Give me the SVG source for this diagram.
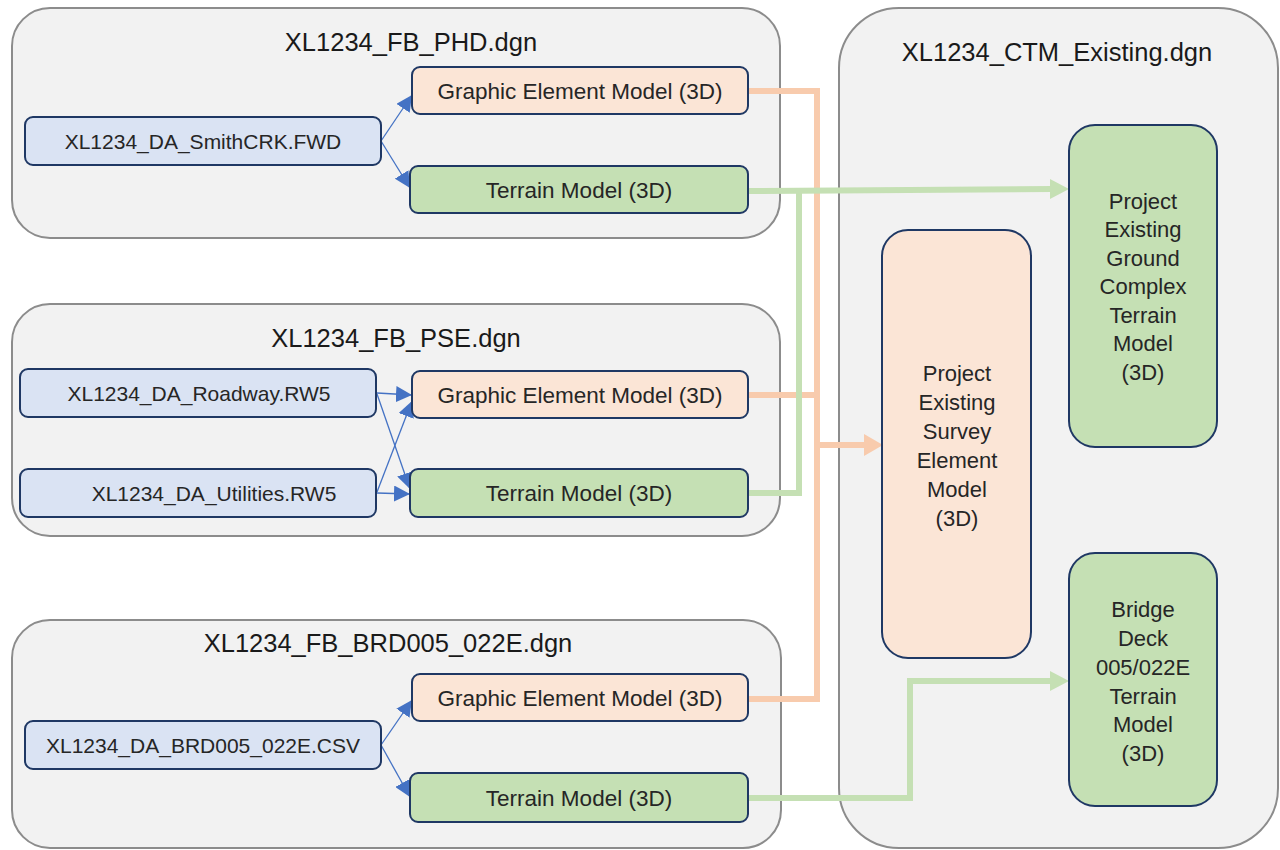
<svg xmlns="http://www.w3.org/2000/svg" width="1280" height="850" viewBox="0 0 1280 850">
<style>
.cont{fill:#f2f2f2;stroke:#8c8c8c;stroke-width:2}
.title{font-family:"Liberation Sans",Arial,sans-serif;font-size:25.5px;fill:#1a1a1a;text-anchor:middle}
.n{stroke:#1f3864;stroke-width:2}
.da{fill:#dae3f3}
.gem{fill:#fbe5d6}
.ter{fill:#c5e0b4}
.t{font-family:"Liberation Sans",Arial,sans-serif;font-size:21px;fill:#262626;text-anchor:middle;dominant-baseline:central}
.tm{font-family:"Liberation Sans",Arial,sans-serif;font-size:22.5px;fill:#262626;text-anchor:middle;dominant-baseline:central}
.tb{font-family:"Liberation Sans",Arial,sans-serif;font-size:22px;fill:#262626;text-anchor:middle}
.blue{stroke:#4472c4;stroke-width:1.3;fill:none}
.org{stroke:#f8cbad;stroke-width:6;fill:none}
.grn{stroke:#c5e0b4;stroke-width:6;fill:none}
</style>
<defs>
<marker id="ab" markerUnits="userSpaceOnUse" markerWidth="18" markerHeight="16" refX="16" refY="8" orient="auto">
<path d="M0,0 L16,8 L0,16 Z" fill="#4472c4"/>
</marker>
</defs>
<rect width="1280" height="850" fill="#ffffff"/>
<g id="containers">
<g id="phd"><rect class="cont" x="12" y="8" width="768" height="230" rx="38"/><text class="title" x="411" y="51">XL1234_FB_PHD.dgn</text></g>
<g id="pse"><rect class="cont" x="12" y="304" width="768" height="232" rx="38"/><text class="title" x="396" y="347">XL1234_FB_PSE.dgn</text></g>
<g id="brd"><rect class="cont" x="12" y="620" width="769" height="228" rx="38"/><text class="title" x="388" y="652">XL1234_FB_BRD005_022E.dgn</text></g>
<g id="ctm"><rect class="cont" x="839" y="8" width="439" height="840" rx="60"/><text class="title" x="1057" y="61">XL1234_CTM_Existing.dgn</text></g>
</g>
<g id="connectors">
<line class="blue" x1="381" y1="141" x2="412" y2="95" marker-end="url(#ab)"/>
<line class="blue" x1="381" y1="141" x2="410" y2="188" marker-end="url(#ab)"/>
<line class="blue" x1="377" y1="393" x2="412" y2="395" marker-end="url(#ab)"/>
<line class="blue" x1="377" y1="394" x2="410" y2="489" marker-end="url(#ab)"/>
<line class="blue" x1="377" y1="492" x2="412" y2="401" marker-end="url(#ab)"/>
<line class="blue" x1="377" y1="493" x2="410" y2="494" marker-end="url(#ab)"/>
<line class="blue" x1="381" y1="745" x2="412" y2="700" marker-end="url(#ab)"/>
<line class="blue" x1="381" y1="745" x2="410" y2="797" marker-end="url(#ab)"/>
<path class="org" d="M748,91 H817 V699 H748"/>
<path class="org" d="M748,395 H817"/>
<path class="org" d="M817,445 H866"/>
<polygon points="864,434 883,445 864,456" fill="#f8cbad"/>
<path class="grn" d="M748,191 L1052,189"/>
<polygon points="1050,179 1069,189 1050,199" fill="#c5e0b4"/>
<path class="grn" d="M748,493 H799 V189"/>
<path class="grn" d="M748,798 H910 V681 H1052"/>
<polygon points="1050,671 1069,681 1050,691" fill="#c5e0b4"/>
</g>
<g id="smithcrk"><rect class="n da" x="25" y="117" width="356" height="48" rx="8"/><text class="t" x="203" y="141">XL1234_DA_SmithCRK.FWD</text></g>
<g id="gem1"><rect class="n gem" x="412" y="67" width="336" height="47" rx="8"/><text class="tm" x="580" y="91">Graphic Element  Model (3D)</text></g>
<g id="ter1"><rect class="n ter" x="410" y="166" width="338" height="47" rx="8"/><text class="tm" x="579" y="190">Terrain Model (3D)</text></g>
<g id="roadway"><rect class="n da" x="20" y="369" width="356" height="48" rx="8"/><text class="t" x="199" y="393">XL1234_DA_Roadway.RW5</text></g>
<g id="utilities"><rect class="n da" x="20" y="469" width="356" height="48" rx="8"/><text class="t" x="214" y="493">XL1234_DA_Utilities.RW5</text></g>
<g id="gem2"><rect class="n gem" x="412" y="371" width="336" height="47" rx="8"/><text class="tm" x="580" y="395">Graphic Element  Model (3D)</text></g>
<g id="ter2"><rect class="n ter" x="410" y="469" width="338" height="48" rx="8"/><text class="tm" x="579" y="493">Terrain Model (3D)</text></g>
<g id="csv"><rect class="n da" x="25" y="721" width="356" height="48" rx="8"/><text class="t" x="203" y="745">XL1234_DA_BRD005_022E.CSV</text></g>
<g id="gem3"><rect class="n gem" x="412" y="674" width="336" height="47" rx="8"/><text class="tm" x="580" y="698">Graphic Element  Model (3D)</text></g>
<g id="ter3"><rect class="n ter" x="410" y="773" width="338" height="49" rx="8"/><text class="tm" x="579" y="798">Terrain Model (3D)</text></g>
<g id="survey"><rect class="n gem" x="882" y="230" width="149" height="428" rx="26"/>
<text class="tb" x="957" y="381">Project</text><text class="tb" x="957" y="410">Existing</text><text class="tb" x="957" y="439">Survey</text><text class="tb" x="957" y="468">Element</text><text class="tb" x="957" y="497">Model</text><text class="tb" x="957" y="526">(3D)</text></g>
<g id="ground"><rect class="n ter" x="1069" y="125" width="148" height="322" rx="26"/>
<text class="tb" x="1143" y="209">Project</text><text class="tb" x="1143" y="237">Existing</text><text class="tb" x="1143" y="266">Ground</text><text class="tb" x="1143" y="294">Complex</text><text class="tb" x="1143" y="323">Terrain</text><text class="tb" x="1143" y="351">Model</text><text class="tb" x="1143" y="380">(3D)</text></g>
<g id="bridge"><rect class="n ter" x="1069" y="553" width="148" height="253" rx="26"/>
<text class="tb" x="1143" y="617">Bridge</text><text class="tb" x="1143" y="646">Deck</text><text class="tb" x="1143" y="675">005/022E</text><text class="tb" x="1143" y="704">Terrain</text><text class="tb" x="1143" y="732">Model</text><text class="tb" x="1143" y="761">(3D)</text></g>
</svg>
